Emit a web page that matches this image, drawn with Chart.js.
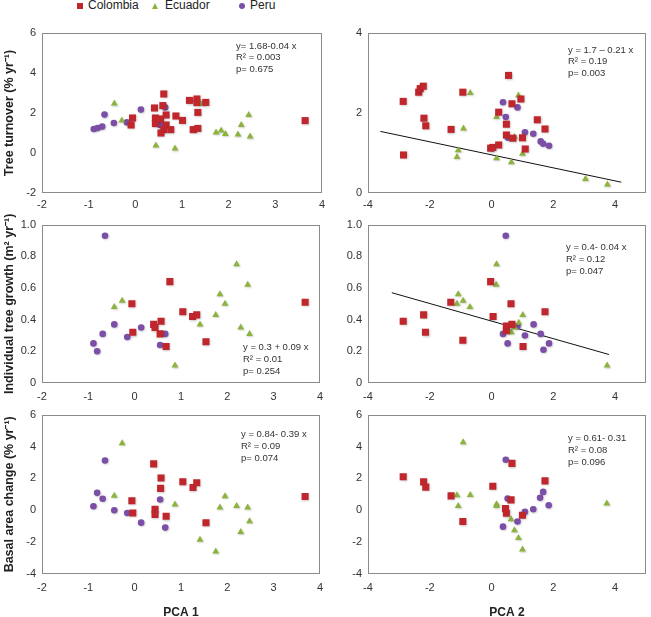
<!DOCTYPE html>
<html><head><meta charset="utf-8">
<script src="https://cdn.jsdelivr.net/npm/chart.js@4.4.1/dist/chart.umd.min.js"></script>
<style>
html,body{margin:0;padding:0;background:#fff;}
body{width:651px;height:617px;position:relative;overflow:hidden;font-family:'Liberation Sans',Arial,sans-serif;}
canvas{position:absolute;}
.leg{position:absolute;top:-1px;font-size:12px;line-height:12px;color:#222;white-space:nowrap;}
.mk{position:absolute;}
</style></head><body>
<div class="mk" style="left:77px;top:3px;width:6px;height:6px;background:#C0272D"></div>
<div class="leg" style="left:88px">Colombia</div>
<div class="mk" style="left:152px;top:3px;width:0;height:0;border-left:3.5px solid transparent;border-right:3.5px solid transparent;border-bottom:6px solid #8DB33F"></div>
<div class="leg" style="left:165px">Ecuador</div>
<div class="mk" style="left:239px;top:3px;width:6px;height:6px;border-radius:50%;background:#7B4EA7"></div>
<div class="leg" style="left:250px">Peru</div>

<canvas id="c1" width="330" height="212" style="left:0;top:0"></canvas>
<canvas id="c2" width="321" height="212" style="left:330px;top:0"></canvas>
<canvas id="c3" width="330" height="190" style="left:0;top:212px"></canvas>
<canvas id="c4" width="321" height="190" style="left:330px;top:212px"></canvas>
<canvas id="c5" width="330" height="215" style="left:0;top:402px"></canvas>
<canvas id="c6" width="321" height="215" style="left:330px;top:402px"></canvas>
<script>
// ---- Data (x = PCA score, y = response) ----
const seriesNames = ['Colombia', 'Ecuador', 'Peru'];

const turnoverPca1Colombia = [[0.61,2.95],[0.41,2.25],[0.59,2.37],[1.16,2.63],[1.32,2.70],[1.32,2.52],[1.51,2.53],[1.34,2.03],[-0.06,1.75],[-0.09,1.40],[0.43,1.75],[0.43,1.47],[0.54,1.70],[0.66,1.90],[0.87,1.85],[1.01,1.63],[0.66,1.40],[0.61,1.17],[0.55,1.00],[0.76,1.17],[1.24,1.17],[1.34,1.23],[3.64,1.62]];
const turnoverPca1Ecuador = [[-0.45,2.47],[-0.29,1.63],[0.44,0.38],[0.85,0.22],[1.43,2.45],[1.73,1.03],[1.84,1.12],[1.93,0.95],[2.20,0.92],[2.27,1.40],[2.43,1.90],[2.46,0.82]];
const turnoverPca1Peru = [[-0.89,1.20],[-0.81,1.25],[-0.71,1.32],[-0.66,1.92],[-0.46,1.50],[-0.18,1.53],[0.12,2.17],[0.53,1.40],[0.64,2.28]];

const turnoverPca2Colombia = [[-2.86,2.29],[-2.85,0.95],[-2.36,2.52],[-2.31,2.61],[-2.21,2.67],[-2.19,1.87],[-2.13,1.68],[-1.31,1.59],[-0.93,2.52],[-0.03,1.12],[0.04,1.14],[0.23,1.20],[0.23,2.02],[0.55,2.94],[0.48,1.72],[0.48,1.45],[0.66,2.23],[0.69,1.37],[0.95,2.35],[1.00,1.38],[1.09,1.10],[1.48,1.83],[1.73,1.60]];
const turnoverPca2Ecuador = [[-0.69,2.50],[-0.91,1.61],[-1.08,1.07],[-1.12,0.90],[0.16,1.90],[0.16,0.87],[0.64,0.77],[0.74,1.40],[0.87,2.44],[1.00,0.98],[3.04,0.35],[3.75,0.21]];
const turnoverPca2Peru = [[0.37,2.27],[0.46,1.90],[0.53,1.38],[0.84,2.14],[1.08,1.52],[1.35,1.48],[1.59,1.29],[1.67,1.23],[1.86,1.18]];
const turnoverPca2Fit = [[-3.6,1.54],[4.2,0.27]];

const growthPca1Colombia = [[0.76,0.64],[-0.06,0.50],[-0.04,0.32],[1.04,0.45],[1.25,0.42],[1.34,0.43],[0.41,0.37],[0.44,0.35],[0.57,0.39],[0.55,0.31],[0.68,0.23],[1.54,0.26],[3.68,0.51]];
const growthPca1Ecuador = [[-0.44,0.48],[-0.27,0.52],[0.87,0.11],[1.41,0.37],[1.75,0.43],[1.84,0.56],[1.95,0.50],[2.20,0.75],[2.29,0.35],[2.44,0.62],[2.48,0.31]];
const growthPca1Peru = [[-0.64,0.93],[-0.89,0.25],[-0.81,0.20],[-0.69,0.31],[-0.44,0.37],[-0.16,0.29],[0.14,0.35],[0.55,0.24],[0.66,0.31]];

const growthPca2Colombia = [[-2.86,0.39],[-2.20,0.43],[-2.14,0.32],[-1.32,0.51],[-0.93,0.27],[-0.03,0.64],[0.05,0.42],[0.63,0.50],[0.48,0.36],[0.48,0.33],[0.66,0.37],[1.02,0.23],[1.73,0.45]];
const growthPca2Ecuador = [[0.16,0.75],[0.15,0.62],[-1.08,0.56],[-0.92,0.52],[-1.12,0.50],[-0.70,0.48],[0.64,0.32],[0.75,0.35],[0.88,0.38],[1.01,0.43],[3.74,0.11]];
const growthPca2Peru = [[0.46,0.93],[0.37,0.31],[0.52,0.25],[0.84,0.36],[1.08,0.30],[1.36,0.37],[1.59,0.31],[1.68,0.21],[1.86,0.25]];
const growthPca2Fit = [[-3.23,0.57],[3.8,0.18]];

const basalPca1Colombia = [[0.41,2.91],[0.57,2.02],[0.56,1.37],[1.04,1.79],[1.26,1.43],[1.34,1.73],[-0.06,0.59],[-0.04,-0.17],[0.44,0.06],[0.44,-0.27],[0.68,-0.38],[1.54,-0.78],[3.68,0.86]];
const basalPca1Ecuador = [[-0.27,4.21],[-0.44,0.91],[0.87,0.36],[1.41,-1.85],[1.75,-2.59],[1.84,0.17],[1.95,0.88],[2.20,0.27],[2.29,-1.37],[2.44,0.17],[2.48,-0.69]];
const basalPca1Peru = [[-0.64,3.12],[-0.81,1.09],[-0.69,0.72],[-0.89,0.25],[-0.44,0.00],[-0.16,-0.17],[0.14,-0.78],[0.55,0.67],[0.66,-1.09]];

const basalPca2Colombia = [[-2.86,2.10],[-2.20,1.78],[-2.13,1.45],[-1.31,0.90],[-0.93,-0.71],[0.04,1.51],[0.66,2.94],[0.63,0.65],[0.45,0.10],[0.48,-0.19],[1.00,-0.31],[1.73,1.84]];
const basalPca2Ecuador = [[-0.92,4.26],[-1.12,0.94],[-1.08,0.27],[-0.69,0.96],[0.16,0.38],[0.16,0.27],[0.63,-0.57],[0.74,-1.26],[0.87,-1.74],[1.00,-2.47],[3.73,0.42]];
const basalPca2Peru = [[0.46,3.17],[0.52,0.73],[0.37,-1.03],[0.84,-0.71],[1.08,-0.10],[1.35,0.06],[1.57,0.78],[1.67,1.15],[1.85,0.31]];

const yTitles = ['Tree turnover (% yr\u207B\u00B9)', 'Individual tree growth (m\u00B2 yr\u207B\u00B9)', 'Basal area change (% yr\u207B\u00B9)'];
const xTitles = ['PCA 1', 'PCA 2'];

// ---- Styling ----
const COLORS = ['#C0272D', '#8DB33F', '#7B4EA7'];
const STYLES = ['rect', 'triangle', 'circle'];
const RADII = [5.0, 4.0, 3.3];
const FONT = "'Liberation Sans', Arial, sans-serif";

const pts = a => a.map(p => ({x: p[0], y: p[1]}));

const boxPlugin = {
  id: 'box',
  beforeDatasetsDraw(chart) {
    const a = chart.chartArea, ctx = chart.ctx;
    ctx.save();
    ctx.strokeStyle = '#8a8a8a';
    ctx.lineWidth = 1;
    ctx.strokeRect(Math.round(a.left) + 0.5, Math.round(a.top) + 0.5, Math.round(a.right - a.left) - 1, Math.round(a.bottom - a.top) - 1);
    ctx.restore();
  },
  beforeDatasetDraw(chart, args) {
    if (args.meta.type !== 'scatter') return;
    const ctx = chart.ctx;
    ctx.save();
    ctx.shadowColor = 'rgba(0,0,0,0.22)';
    ctx.shadowBlur = 2;
    ctx.shadowOffsetX = 0.8;
    ctx.shadowOffsetY = 0.8;
  },
  afterDatasetDraw(chart, args) {
    if (args.meta.type !== 'scatter') return;
    chart.ctx.restore();
  }
};
const notePlugin = {
  id: 'note',
  afterDraw(chart, args, opts) {
    if (!opts || !opts.lines) return;
    const a = chart.chartArea, ctx = chart.ctx;
    ctx.save();
    ctx.font = '9.5px ' + FONT;
    ctx.fillStyle = '#333';
    ctx.textBaseline = 'middle';
    opts.lines.forEach((t, i) => ctx.fillText(t, a.left + opts.dx, a.top + opts.dy + i * 11.8));
    ctx.restore();
  }
};

function make(id, c) {
  const left = c.col === 0;
  const datasets = c.series.map((s, i) => ({
    type: 'scatter', label: seriesNames[i], data: pts(s),
    pointStyle: STYLES[i], pointRadius: RADII[i], pointHoverRadius: RADII[i],
    backgroundColor: COLORS[i], borderColor: COLORS[i], borderWidth: 0
  }));
  if (c.fit) datasets.push({
    type: 'line', label: 'fit', data: pts(c.fit), borderColor: '#111', borderWidth: 1,
    pointRadius: 0, fill: false, tension: 0
  });
  const rowPad = [{top: 33, xh: 19, tp: 5}, {top: 12, xh: 19, tp: 7}, {top: 12, xh: 43, tp: 7}][c.row];
  new Chart(document.getElementById(id), {
    data: {datasets},
    plugins: [boxPlugin, notePlugin],
    options: {
      responsive: false, animation: false, devicePixelRatio: 1,
      layout: {padding: {left: 0, right: left ? 8 : 1, top: rowPad.top, bottom: 0}},
      plugins: {legend: {display: false}, tooltip: {enabled: false}, note: c.note},
      scales: {
        x: {
          type: 'linear', position: 'bottom', min: c.x[0], max: c.x[1],
          grid: {display: false, drawTicks: false}, border: {display: false},
          ticks: {stepSize: c.x[2], padding: rowPad.tp, color: '#333', font: {size: 11, family: FONT}},
          afterBuildTicks: s => { s.ticks = s.ticks.filter(t => Math.abs((t.value - c.x[0]) / c.x[2] - Math.round((t.value - c.x[0]) / c.x[2])) < 1e-6); },
          afterFit: s => { s.height = rowPad.xh; },
          title: {display: c.row === 2, text: xTitles[c.col], color: '#222',
            font: {size: 12, weight: 'bold', family: "'Liberation Sans Narrow', 'Liberation Sans', Arial, sans-serif", lineHeight: 0.8},
            padding: {top: 0, bottom: 0}}
        },
        y: {
          type: 'linear', position: 'left', min: c.y[0], max: c.y[1],
          grid: {display: false, drawTicks: false}, border: {display: false},
          ticks: {stepSize: c.y[2], padding: 6, color: '#333', font: {size: 11, family: FONT}},
          afterFit: s => { s.width = left ? 42 : 38; },
          title: {display: left, text: yTitles[c.row], color: '#222',
            font: {size: 12.5, weight: 'bold', family: FONT}, padding: {top: 2, bottom: 0}}
        }
      }
    }
  });
}

make('c1', {col: 0, row: 0, x: [-2, 4, 1], y: [-2, 6, 2],
  series: [turnoverPca1Colombia, turnoverPca1Ecuador, turnoverPca1Peru],
  note: {dx: 194, dy: 13, lines: ['y= 1.68-0.04 x', 'R\u00B2 = 0.003', 'p= 0.675']}});
make('c2', {col: 1, row: 0, x: [-4, 5, 2], y: [0, 4, 2],
  series: [turnoverPca2Colombia, turnoverPca2Ecuador, turnoverPca2Peru], fit: turnoverPca2Fit,
  note: {dx: 200, dy: 17, lines: ['y = 1.7 \u2013 0.21 x', 'R\u00B2 = 0.19', 'p= 0.003']}});
make('c3', {col: 0, row: 1, x: [-2, 4, 1], y: [0, 1, 0.2],
  series: [growthPca1Colombia, growthPca1Ecuador, growthPca1Peru],
  note: {dx: 201, dy: 123, lines: ['y = 0.3 + 0.09 x', 'R\u00B2 = 0.01', 'p= 0.254']}});
make('c4', {col: 1, row: 1, x: [-4, 5, 2], y: [0, 1, 0.2],
  series: [growthPca2Colombia, growthPca2Ecuador, growthPca2Peru], fit: growthPca2Fit,
  note: {dx: 198, dy: 23, lines: ['y = 0.4- 0.04 x', 'R\u00B2 = 0.12', 'p= 0.047']}});
make('c5', {col: 0, row: 2, x: [-2, 4, 1], y: [-4, 6, 2],
  series: [basalPca1Colombia, basalPca1Ecuador, basalPca1Peru],
  note: {dx: 199, dy: 20, lines: ['y = 0.84- 0.39 x', 'R\u00B2 = 0.09', 'p= 0.074']}});
make('c6', {col: 1, row: 2, x: [-4, 5, 2], y: [-4, 6, 2],
  series: [basalPca2Colombia, basalPca2Ecuador, basalPca2Peru],
  note: {dx: 200, dy: 24, lines: ['y = 0.61- 0.31', 'R\u00B2 = 0.08', 'p= 0.096']}});
</script>
</body></html>
